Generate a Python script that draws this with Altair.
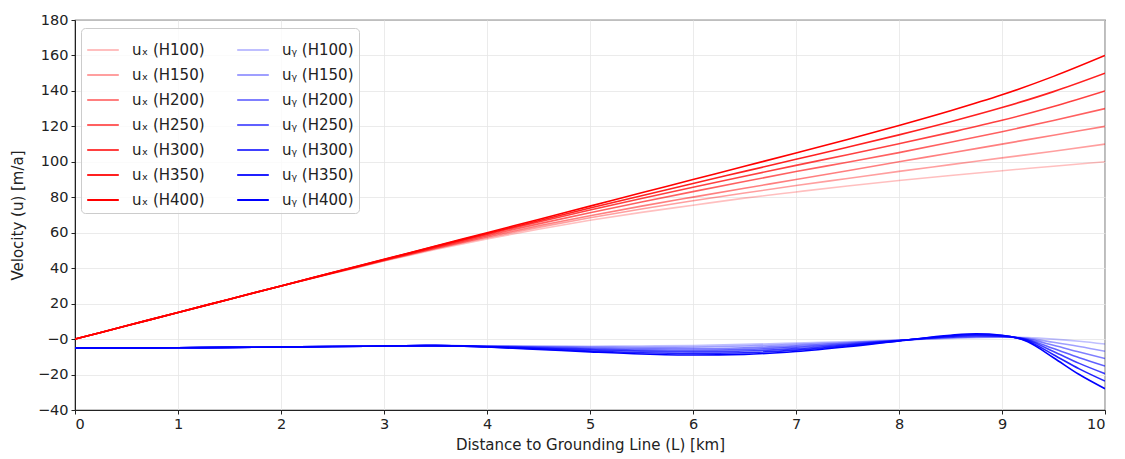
import altair as alt
import pandas as pd

# ---- data ----
heights = ["H100", "H150", "H200", "H250", "H300", "H350", "H400"]
alphas = [0.25, 0.375, 0.5, 0.625, 0.75, 0.875, 1.0]

x_red = [0, 0.5, 1, 1.5, 2, 2.5, 3, 3.5, 4, 4.5, 5, 5.5, 6, 6.5, 7, 7.5, 8, 8.5, 9, 9.5, 10]
ux = {
    "H100": [0, 7.5, 15, 22.5, 30, 37.0, 44.0, 50.5, 56.5, 62.0, 67.0, 71.5, 75.5, 79.5, 83.0, 86.4, 89.5, 92.3, 95.0, 97.5, 100],
    "H150": [0, 7.5, 15, 22.5, 30, 37.1, 44.2, 51.0, 57.2, 63.0, 68.4, 73.4, 78.0, 82.4, 86.6, 90.6, 94.6, 98.4, 102.2, 106.0, 110],
    "H200": [0, 7.5, 15, 22.5, 30, 37.2, 44.4, 51.3, 57.8, 63.9, 69.6, 75.0, 80.1, 85.1, 90.0, 95.0, 100.0, 105.0, 110.0, 115.0, 120],
    "H250": [0, 7.5, 15, 22.5, 30, 37.3, 44.6, 51.7, 58.5, 65.0, 71.3, 77.3, 83.2, 88.9, 94.5, 99.8, 105.2, 111.0, 117.0, 123.3, 130],
    "H300": [0, 7.5, 15, 22.5, 30, 37.4, 44.8, 52.1, 59.2, 66.1, 72.8, 79.3, 85.7, 91.9, 98.0, 104.0, 110.2, 116.6, 123.4, 131.2, 140],
    "H350": [0, 7.5, 15, 22.5, 30, 37.5, 44.9, 52.3, 59.6, 66.8, 73.9, 80.9, 87.8, 94.6, 101.4, 108.2, 115.2, 122.6, 130.6, 139.6, 150],
    "H400": [0, 7.5, 15, 22.5, 30, 37.5, 45.0, 52.5, 60.0, 67.5, 75.0, 82.5, 90.0, 97.5, 105.0, 112.6, 120.5, 128.8, 137.8, 148.2, 160],
}

x_blue = [0, 0.5, 1, 1.5, 2, 2.5, 3, 3.5, 4, 4.5, 5, 5.5, 6, 6.5, 7, 7.5, 8, 8.5, 8.75, 9, 9.25, 9.5, 9.75, 10]
uy = {
    "H100": [-5, -5, -4.9, -4.7, -4.5, -4.2, -3.9, -3.7, -3.8, -3.9, -4.0, -3.9, -3.6, -3.0, -2.2, -1.4, -0.6, 0.4, 0.8, 1.0, 0.8, 0.0, -1.2, -2.8],
    "H150": [-5, -5, -4.9, -4.7, -4.5, -4.2, -3.9, -3.7, -3.9, -4.2, -4.5, -4.7, -4.5, -3.9, -3.0, -1.9, -0.7, 0.7, 1.2, 1.2, 0.4, -1.8, -4.2, -6.9],
    "H200": [-5, -5, -4.9, -4.7, -4.5, -4.2, -3.9, -3.7, -4.0, -4.5, -5.1, -5.4, -5.4, -4.9, -3.8, -2.4, -0.7, 1.0, 1.5, 1.4, 0.0, -3.5, -7.3, -11.0],
    "H250": [-5, -5, -4.9, -4.7, -4.5, -4.2, -3.9, -3.7, -4.2, -4.9, -5.6, -6.2, -6.3, -5.8, -4.6, -2.9, -0.8, 1.3, 1.9, 1.6, -0.4, -5.3, -10.5, -15.2],
    "H300": [-5, -5, -4.9, -4.7, -4.5, -4.2, -3.9, -3.7, -4.3, -5.2, -6.1, -6.9, -7.2, -6.7, -5.4, -3.3, -0.9, 1.6, 2.3, 1.8, -0.7, -7.0, -13.7, -19.5],
    "H350": [-5, -5, -4.9, -4.7, -4.5, -4.2, -3.9, -3.7, -4.4, -5.5, -6.7, -7.7, -8.1, -7.7, -6.2, -3.8, -1.0, 1.9, 2.6, 2.0, -1.1, -8.8, -16.8, -23.7],
    "H400": [-5, -5, -4.9, -4.7, -4.5, -4.2, -3.9, -3.7, -4.5, -5.8, -7.2, -8.4, -9.0, -8.6, -7.0, -4.3, -1.0, 2.2, 3.0, 2.2, -1.5, -10.5, -20.0, -28.0],
}

x_ticks = [0, 1, 2, 3, 4, 5, 6, 7, 8, 9, 10]
y_ticks = [-40, -20, 0, 20, 40, 60, 80, 100, 120, 140, 160, 180]

# ---- build table ----
rows = []
labels_x = [f"u\u2093 ({h})" for h in heights]
labels_y = [f"u\u1d67 ({h})" for h in heights]
domain = labels_x + labels_y
colors = [f"rgba(255,0,0,{a})" for a in alphas] + [f"rgba(0,0,255,{a})" for a in alphas]
for i, h in enumerate(heights):
    for xv, yv in zip(x_red, ux[h]):
        rows.append({"x": xv, "u": yv, "series": labels_x[i], "ord": i})
for i, h in enumerate(heights):
    for xv, yv in zip(x_blue, uy[h]):
        rows.append({"x": xv, "u": yv, "series": labels_y[i], "ord": 7 + i})
df = pd.DataFrame(rows)

font = "DejaVu Sans"

chart = alt.Chart(df).mark_line(strokeWidth=1.6, interpolate="monotone", clip=True).encode(
    x=alt.X("x:Q", title="Distance to Grounding Line (L) [km]",
            scale=alt.Scale(domain=[0, 10], nice=False, zero=False),
            axis=alt.Axis(values=x_ticks, format="d")),
    y=alt.Y("u:Q", title="Velocity (u) [m/a]",
            scale=alt.Scale(domain=[-40, 180], nice=False, zero=False),
            axis=alt.Axis(values=y_ticks,
                          labelExpr="datum.value === 0 ? '\u22120' : datum.label")),
    color=alt.Color("series:N", scale=alt.Scale(domain=domain, range=colors),
                    legend=alt.Legend(
                        title=None, orient="none", legendX=6, legendY=8, columns=2,
                        symbolType="stroke", symbolSize=1000, symbolStrokeWidth=2,
                        labelFont=font, labelFontSize=15, labelColor="#222",
                        labelOffset=12, columnPadding=28, rowPadding=0,
                        padding=5, fillColor="rgba(255,255,255,0.8)",
                        strokeColor="#cccccc", cornerRadius=4)),
    detail="series:N",
    order=alt.Order("ord:Q"),
).properties(
    width=1030, height=390,
    autosize=alt.AutoSizeParams(type="none"),
    padding={"left": 67, "top": 12, "right": 8, "bottom": 48},
).configure_view(
    stroke="#222", strokeWidth=1.2
).configure_axis(
    labelFont=font, labelFontSize=14.5, labelColor="#222",
    titleFont=font, titleFontSize=15, titleColor="#222", titleFontWeight="normal",
    domainColor="#222", tickColor="#222", tickSize=4, labelPadding=3,
    grid=True, gridColor="#e6e6e6", gridWidth=0.8
).configure_axisY(titlePadding=12).configure_axisX(titlePadding=7)

chart.save("out.html", embed_options={"renderer": "svg", "actions": False})
